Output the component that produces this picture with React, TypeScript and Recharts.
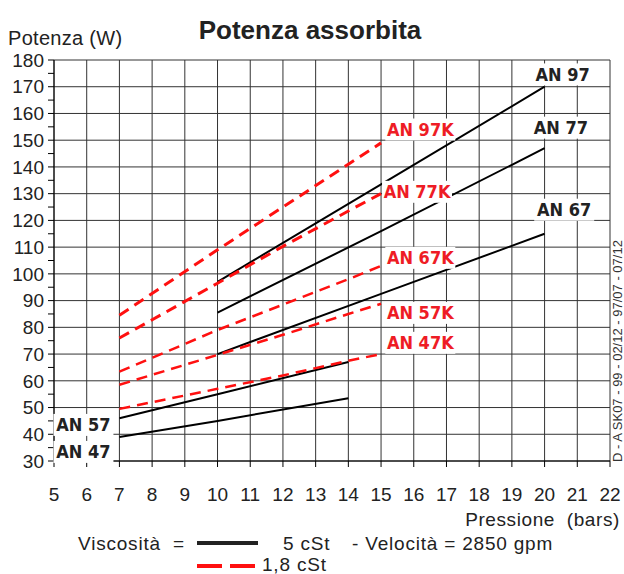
import { LineChart, Line, XAxis, YAxis, CartesianGrid, ReferenceDot } from "recharts";

// x = pressure (bar), y = absorbed power (W)
const pressA = [7, 10, 14];
const an47 = [39, 45, 53.5];
const an57 = [46, 55, 67];

const pressB = [10, 15, 20];
const an67 = [70, 92.5, 115];
const an77 = [85.5, 116, 147];
const an97 = [97, 133.5, 170];

const pressK = [7, 10, 12, 14, 15];
const an47k = [49.5, 57, 62, 67.5, 70];
const an57k = [58.5, 69.7, 77.2, 85, 88.8];
const an67k = [63.4, 79, 88.5, 98, 103];
const an77k = [76, 96.5, 110.3, 123.5, 130];
const an97k = [84.5, 109, 125, 141, 149];

const xTicks = [5, 6, 7, 8, 9, 10, 11, 12, 13, 14, 15, 16, 17, 18, 19, 20, 21, 22];
const yTicks = [30, 35, 40, 45, 50, 55, 60, 65, 70, 75, 80, 85, 90, 95, 100, 105, 110, 115, 120, 125, 130, 135, 140, 145, 150, 155, 160, 165, 170, 175, 180];
const yGrid = [30, 40, 50, 60, 70, 80, 90, 100, 110, 120, 130, 140, 150, 160, 170, 180];

const labelNames = ["AN 97", "AN 77", "AN 67", "AN 97K", "AN 77K", "AN 67K", "AN 57K", "AN 47K", "AN 57", "AN 47"];
const labelX = [20.55, 20.5, 20.6, 16.2, 16.1, 16.2, 16.2, 16.2, 5.9, 5.9];
const labelY = [174.6, 154.7, 124, 154, 130.7, 106, 85.4, 74.2, 43.5, 33.4];

const toPts = (xs: number[], ys: number[]) => xs.map((x, i) => ({ x, y: ys[i] }));

const solid = [an47, an57].map((v) => toPts(pressA, v)).concat([an67, an77, an97].map((v) => toPts(pressB, v)));
const dashed = [an47k, an57k, an67k, an77k, an97k].map((v) => toPts(pressK, v));

const RED = "#ff1010";
const FONT = "'Liberation Sans', Arial, sans-serif";

function LabelBox(props: any) {
    const { cx, cy, name } = props;
    const red = name.endsWith("K");
    const w = red ? 70 : 60;
    return (
        <g>
            <rect x={cx - w / 2} y={cy - 11} width={w} height={22} fill="#fff" />
            <text
                x={cx}
                y={cy + 6.5}
                textAnchor="middle"
                fontFamily="'DejaVu Sans Condensed', 'DejaVu Sans', sans-serif"
                fontStretch="condensed"
                fontWeight="bold"
                fontSize={18}
                fill={red ? "#ee1c25" : "#222"}
            >
                {name.replace(" ", "  ")}
            </text>
        </g>
    );
}

export default function App() {
    return (
        <div style={{ position: "absolute", left: 0, top: 0, width: 624, height: 574, background: "#fff", fontFamily: FONT }}>
            <LineChart width={624} height={574} margin={{ top: 60, right: 14, bottom: 73, left: 0 }}>
                <CartesianGrid stroke="#333" strokeWidth={1} horizontalValues={yGrid} verticalValues={xTicks} />
                <XAxis
                    type="number"
                    dataKey="x"
                    domain={[5, 22]}
                    ticks={xTicks}
                    interval={0}
                    height={40}
                    tickSize={6}
                    tickMargin={21}
                    stroke="#000"
                    tick={{ fill: "#222", fontSize: 19, fontFamily: FONT }}
                    allowDuplicatedCategory={false}
                />
                <YAxis
                    type="number"
                    dataKey="y"
                    domain={[30, 180]}
                    ticks={yTicks}
                    interval={0}
                    width={54}
                    tickSize={6}
                    tickMargin={4}
                    stroke="#000"
                    tickFormatter={(v: number) => (v % 10 === 0 ? String(v) : "")}
                    tick={{ fill: "#222", fontSize: 19, fontFamily: FONT }}
                />
                {solid.map((d, i) => (
                    <Line key={"s" + i} data={d} dataKey="y" stroke="#000" strokeWidth={2} dot={false} isAnimationActive={false} />
                ))}
                {dashed.map((d, i) => (
                    <Line
                        key={"d" + i}
                        data={d}
                        dataKey="y"
                        stroke={RED}
                        strokeWidth={i > 2 ? 3 : 2.5}
                        strokeDasharray="11 7"
                        dot={false}
                        isAnimationActive={false}
                    />
                ))}
                {labelNames.map((n, i) => (
                    <ReferenceDot
                        key={n}
                        x={labelX[i]}
                        y={labelY[i]}
                        ifOverflow="visible"
                        shape={(p: any) => <LabelBox {...p} name={n} />}
                    />
                ))}
            </LineChart>
            <svg width={624} height={574} style={{ position: "absolute", left: 0, top: 0, pointerEvents: "none" }}>
                <text x={310} y={39} textAnchor="middle" fontFamily={FONT} fontWeight="bold" fontSize={26} fill="#222">
                    Potenza assorbita
                </text>
                <text x={8} y={45} fontFamily={FONT} fontSize={20} letterSpacing={0.3} fill="#222">
                    Potenza (W)
                </text>
                <text x={620} y={526} textAnchor="end" fontFamily={FONT} fontSize={19} letterSpacing={0.6} fill="#222" xmlSpace="preserve">
                    Pressione  (bars)
                </text>
                <text x={78} y={550} fontFamily={FONT} fontSize={19} letterSpacing={0.8} fill="#222" xmlSpace="preserve">
                    Viscosità  =
                </text>
                <line x1={197} y1={543} x2={258} y2={543} stroke="#222" strokeWidth={4} />
                <text x={283} y={550} fontFamily={FONT} fontSize={19} letterSpacing={0.8} fill="#222">
                    5 cSt
                </text>
                <text x={352} y={550} fontFamily={FONT} fontSize={19} letterSpacing={0.8} fill="#222">
                    - Velocità = 2850 gpm
                </text>
                <line x1={197} y1={566} x2={258} y2={566} stroke={RED} strokeWidth={4} strokeDasharray="25 8" />
                <text x={262} y={571} fontFamily={FONT} fontSize={19} letterSpacing={0.8} fill="#222">
                    1,8 cSt
                </text>
                <text
                    x={0}
                    y={0}
                    transform="translate(622 462) rotate(-90)"
                    fontFamily={FONT}
                    fontSize={13}
                    fill="#333"
                >
                    D - A SK07 - 99 - 02/12 - 97/07 - 07/12
                </text>
            </svg>
        </div>
    );
}
